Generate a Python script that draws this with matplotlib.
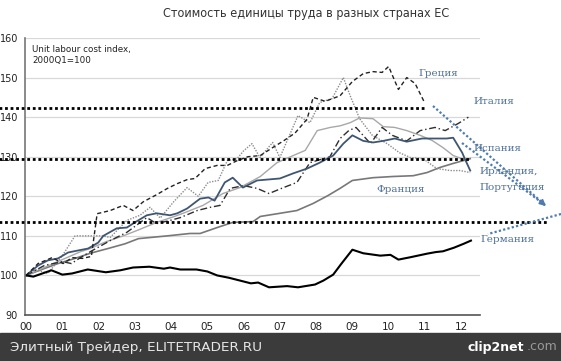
import numpy as np
import matplotlib.pyplot as plt
from matplotlib.lines import Line2D
from matplotlib.patches import Rectangle

W, H = 561, 361

# данные (годы от 2000, индекс 2000Q1=100)
de_x = [0, 0.2, 0.7, 1.0, 1.27, 1.7, 2.2, 2.6, 2.95, 3.4, 3.8, 3.97, 4.25, 4.7, 5.0, 5.27, 5.6, 6.2, 6.4,
        6.7, 7.2, 7.5, 7.97, 8.2, 8.47, 8.7, 9.0, 9.3, 9.77, 10.05, 10.27, 10.6, 11.06, 11.3, 11.5, 11.8, 12.07, 12.27]
de_y = [100, 99.7, 101.3, 100.2, 100.5, 101.5, 100.8, 101.3, 102, 102.2, 101.7, 102, 101.5, 101.5, 101, 100,
        99.4, 98, 98.2, 97, 97.3, 97, 97.7, 98.7, 100.2, 103, 106.5, 105.6, 105, 105.2, 104, 104.6, 105.5, 105.9,
        106.1, 107, 108, 108.8]

gr_x = [0, 0.33, 0.72, 1.02, 1.27, 1.55, 1.8, 1.96, 2.32, 2.68, 2.95, 3.23, 3.6, 3.9, 4.17, 4.44, 4.66, 4.94,
        5.27, 5.55, 5.82, 6.12, 6.46, 6.8, 7.1, 7.42, 7.75, 7.92, 8.25, 8.66, 9.0, 9.3, 9.57, 9.82, 10.0, 10.27,
        10.5, 10.73, 11.0]
gr_y = [100, 103, 104.5, 103, 104.5, 104.3, 104.8, 115.6, 116.4, 117.7, 116.4, 118.6, 120.4, 122, 123.2, 124.2,
        124.5, 127, 127.8, 127.8, 129, 130, 130.3, 132.3, 134, 136, 139.5, 145, 144, 145.4, 149, 151, 151.5,
        151.3, 152.8, 147, 150, 148.5, 143.5]

ie_x = [0, 0.25, 0.6, 1.0, 1.35, 1.77, 2.1, 2.32, 2.78, 3.14, 3.42, 3.7, 4.06, 4.44, 4.75, 5.02, 5.3, 5.55, 5.82,
        6.0, 6.23, 6.45, 6.8, 7.0, 7.5, 7.83, 8.1, 8.44, 8.75, 8.94, 9.2, 9.55, 9.96, 10.3, 10.6, 10.95, 11.33,
        11.7, 11.97, 12.25]
ie_y = [100, 101.5, 100.5, 105, 110, 110, 110, 109.6, 113.9, 115.2, 117.2, 114.5, 118.5, 122.2, 120, 123.5, 124,
        129, 129.5, 131.5, 133.3, 129.8, 133.6, 129.8, 140.4, 138.6, 143.7, 144.7, 150, 145.4, 139.6, 135.4,
        133.3, 131, 129.8, 129.5, 127, 126.5, 126.5, 126]

es_x = [0, 0.5, 1.0, 1.5, 1.77, 2.2, 2.68, 3.1, 3.6, 4.06, 4.33, 4.88, 5.43, 5.9, 6.46, 6.92, 7.37, 7.7, 8.03,
        8.39, 8.66, 8.94, 9.2, 9.57, 9.85, 10.17, 10.5, 10.87, 11.2, 11.5, 11.78, 12.17]
es_y = [100, 102, 104, 106, 106.8, 108.5, 110, 111.5, 113.4, 114.8, 115.7, 117.7, 120.7, 122.2, 125, 128.5,
        130.3, 131.6, 136.6, 137.4, 137.8, 138.6, 139.8, 139.6, 137.6, 137.4, 136.6, 135.4, 134.1, 132.3, 130.3, 129]

it_x = [0, 0.5, 1.0, 1.25, 1.5, 1.77, 2.32, 2.78, 3.33, 3.6, 3.97, 4.25, 4.72, 5.07, 5.35, 5.63, 6.0, 6.37, 6.7,
        7.1, 7.47, 7.83, 8.38, 8.66, 8.9, 9.1, 9.5, 9.82, 10.1, 10.5, 10.87, 11.28, 11.56, 11.92, 12.2]
it_y = [100, 102.5, 103.5, 103, 104.5, 106, 108.8, 110.9, 114.6, 113.1, 113.9, 114.6, 116.4, 117.2, 117.7, 122,
        122.7, 122, 120.7, 122.2, 123.5, 128.5, 130, 134.6, 136.6, 137.4, 133.3, 137.4, 135.4, 134, 136.6,
        137.4, 136.6, 138.4, 140]

pt_x = [0, 0.33, 0.6, 0.88, 1.16, 1.43, 1.71, 1.99, 2.13, 2.5, 2.78, 3.0, 3.33, 3.6, 3.97, 4.17, 4.44, 4.8, 5.03,
        5.2, 5.48, 5.7, 5.98, 6.37, 7.0, 7.37, 7.75, 8.1, 8.47, 8.75, 9.0, 9.3, 9.57, 9.85, 10.17, 10.5, 10.92,
        11.33, 11.6, 11.78, 12.03, 12.1, 12.25]
pt_y = [100, 102.5, 103.8, 104.3, 105.8, 106.3, 106.8, 108.3, 110, 111.9, 112.1, 113.4, 115.2, 115.7, 115.2,
        115.7, 116.9, 119.4, 119.7, 118.9, 123.5, 124.7, 122.2, 124, 124.5, 125.8, 127, 128.5, 130.3, 133.3,
        135.4, 134, 133.6, 134, 134.6, 133.8, 134.6, 134.6, 134.6, 134.8, 131, 129.5, 126.5]

fr_x = [0, 0.52, 0.88, 1.35, 1.77, 2.26, 2.73, 3.1, 3.9, 4.52, 4.8, 5.27, 5.7, 6.26, 6.46, 7.0, 7.47, 7.92,
        8.33, 8.66, 9.0, 9.57, 10.12, 10.68, 11.06, 11.42, 11.78, 12.25]
fr_y = [100, 101.8, 103, 104.3, 105.6, 106.8, 108, 109.3, 110, 110.6, 110.6, 112.1, 113.4, 113.6, 114.9, 115.7,
        116.4, 118.2, 120.2, 122, 124, 124.7, 125, 125.2, 126, 127.3, 128.3, 129.5]

year_labels = ['00', '01', '02', '03', '04', '05', '06', '07', '08', '09', '10', '11', '12']
levels = [142.3, 129.3, 113.5]      # пунктирные уровни
levels_end = [11.0, 12.25, 14.4]    # где они обрываются (годы)


def fp(x, y):
    # пиксели картинки -> координаты фигуры
    return x / W, 1 - y / H


fig = plt.figure(figsize=(W / 100, H / 100), dpi=100)
fig.patch.set_facecolor('white')
ax = fig.add_axes([25 / W, 1 - 315 / H, 455 / W, 277 / H])

ax.set_xlim(-0.03, 12.52)
ax.set_ylim(90, 160)
for v in range(100, 161, 10):
    ax.axhline(v, color='#d8d8d8', lw=0.9, zorder=0)

ax.plot(fr_x, fr_y, color='#787878', lw=1.2)
ax.plot(es_x, es_y, color='#a8a8a8', lw=1.0)
ax.plot(ie_x, ie_y, color='#8c8c8c', lw=1.0, ls=(0, (1, 1)))
ax.plot(it_x, it_y, color='#2e2e2e', lw=1.0, ls=(0, (5, 2, 1, 2)))
ax.plot(pt_x, pt_y, color='#3f5672', lw=1.3)
ax.plot(gr_x, gr_y, color='#222222', lw=1.0, ls=(0, (3, 2)))
ax.plot(de_x, de_y, color='black', lw=1.5)

for lv, end in zip(levels, levels_end):
    ax.plot([-0.75, end], [lv, lv], color='black', lw=2.0, ls=(0, (1, 1)), clip_on=False, zorder=5)

ax.set_xticks(range(13))
ax.set_xticklabels(year_labels, fontsize=7.5, color='#222222')
ax.set_yticks(range(90, 161, 10))
ax.tick_params(axis='y', labelsize=7, colors='#222222', length=0, pad=5)
ax.tick_params(axis='x', length=0, pad=5)
for s in ['top', 'right']:
    ax.spines[s].set_visible(False)
ax.spines['left'].set_color('#777777')
ax.spines['bottom'].set_color('#555555')
ax.spines['left'].set_linewidth(1.2)
ax.spines['bottom'].set_linewidth(1.2)

ax.text(0.016, 0.975, 'Unit labour cost index,\n2000Q1=100', transform=ax.transAxes, fontsize=6.3,
        va='top', ha='left', color='#222222', linespacing=1.3)

fig.text(*fp(306, 13), 'Стоимость единицы труда в разных странах ЕС', ha='center', va='center',
         fontsize=9, color='#333333', family='DejaVu Sans', stretch='condensed')

# подписи стран
blue = '#4d6f98'
lab = dict(color=blue, fontsize=7.5, family=['DejaVu Serif'], va='center', ha='left')
fig.text(*fp(418, 74), 'Греция', **lab)
fig.text(*fp(473, 102), 'Италия', **lab)
fig.text(*fp(473, 148), 'Испания', **lab)
fig.text(*fp(479, 172), 'Ирландия,', **lab)
fig.text(*fp(479, 187), 'Португалия', **lab)
fig.text(*fp(376, 190), 'Франция', **lab)
fig.text(*fp(480, 240), 'Германия', **lab)

# синие пунктирные стрелки
for (x0, y0), (x1, y1) in [((433, 106), (545, 205)), ((462, 143), (545, 205)), ((561, 214), (488, 234))]:
    fig.add_artist(Line2D([x0 / W, x1 / W], [1 - y0 / H, 1 - y1 / H], color='#4f7bb0', lw=1.6,
                          ls=(0, (1, 1))))
ax.annotate('', xy=fp(548, 208), xytext=fp(538, 199), xycoords='figure fraction', textcoords='figure fraction',
            arrowprops=dict(arrowstyle='-|>', color='#4f7bb0', lw=1.2, mutation_scale=9))

# нижняя плашка
fig.add_artist(Rectangle((0, 0), 1, (H - 333) / H, transform=fig.transFigure, color='#3b3b3b', zorder=10))
fig.text(*fp(10, 347), 'Элитный Трейдер, ELITETRADER.RU', color='#e6e6e6', fontsize=9.7, va='center',
         ha='left', zorder=11)
fig.text(*fp(468, 347), 'clip2net', color='white', fontsize=9, va='center', ha='left', weight='bold',
         zorder=11)
fig.text(*fp(527, 347), '.com', color='#9a9a9a', fontsize=9, va='center', ha='left', zorder=11)

fig.savefig('out.png', dpi=100)
